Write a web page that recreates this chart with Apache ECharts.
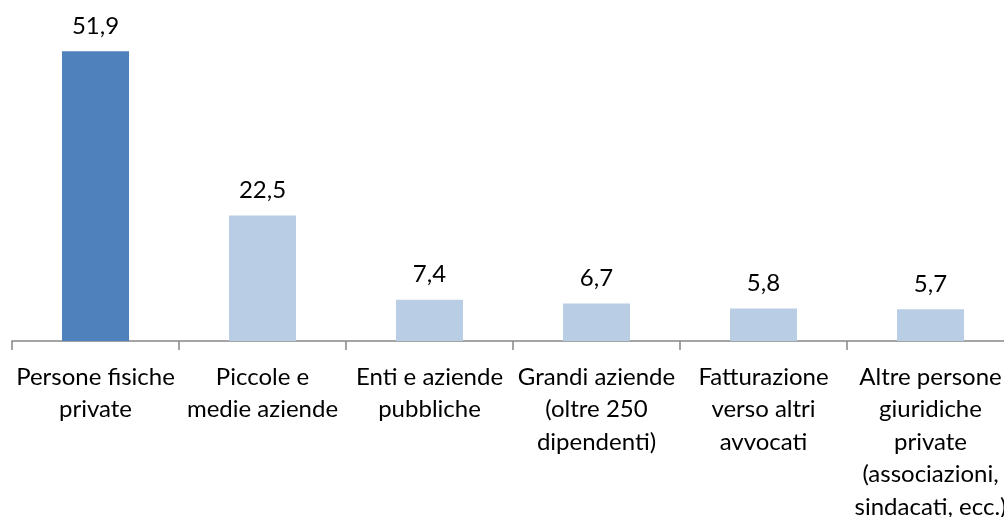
<!DOCTYPE html>
<html>
<head>
    <meta charset="utf-8">
    <title>Clienti</title>
    <script src="https://cdn.jsdelivr.net/npm/echarts@6/dist/echarts.min.js"></script>
    <style>
        html, body { margin: 0; padding: 0; background: #fff; overflow: hidden; }
    </style>
</head>
<body>
<!-- the last category runs past the right edge, as in the source picture -->
<div id="chart" style="width: 1014px; height: 517px;"></div>
<script>
    var categories = [
        'Persone fisiche\nprivate',
        'Piccole e\nmedie aziende',
        'Enti e aziende\npubbliche',
        'Grandi aziende\n(oltre 250\ndipendenti)',
        'Fatturazione\nverso altri\navvocati',
        'Altre persone\ngiuridiche\nprivate\n(associazioni,\nsindacati, ecc.)'
    ];
    var values = [51.9, 22.5, 7.4, 6.7, 5.8, 5.7];
    var barColors = ['#4F81BD', '#B9CDE5', '#B9CDE5', '#B9CDE5', '#B9CDE5', '#B9CDE5'];

    var chart = echarts.init(document.getElementById('chart'));
    var font = 'Lato, "Open Sans", sans-serif';

    var option = {
        animation: false,
        grid: {
            left: 12, top: 6, right: 0, bottom: 176,
            containLabel: false,
            outerBoundsMode: 'none'
        },
        xAxis: {
            type: 'category',
            data: categories,
            axisLine: { lineStyle: { color: '#868686', width: 1.5 } },
            axisTick: { show: true, alignWithLabel: false, length: 9, lineStyle: { color: '#868686', width: 1.5 } },
            axisLabel: {
                interval: 0,
                margin: 20,
                color: '#000',
                fontFamily: font,
                fontSize: 24,
                lineHeight: 32.5
            }
        },
        yAxis: {
            type: 'value',
            min: 0,
            max: 60,
            show: false
        },
        series: [{
            type: 'bar',
            barWidth: 67,
            data: values.map(function (v, i) {
                return { value: v, itemStyle: { color: barColors[i] } };
            }),
            label: {
                show: true,
                position: 'top',
                distance: 13,
                color: '#000',
                fontFamily: font,
                fontSize: 24,
                formatter: function (p) {
                    return p.value.toFixed(1).replace('.', ',');
                }
            }
        }]
    };
    chart.setOption(option);
</script>
</body>
</html>
